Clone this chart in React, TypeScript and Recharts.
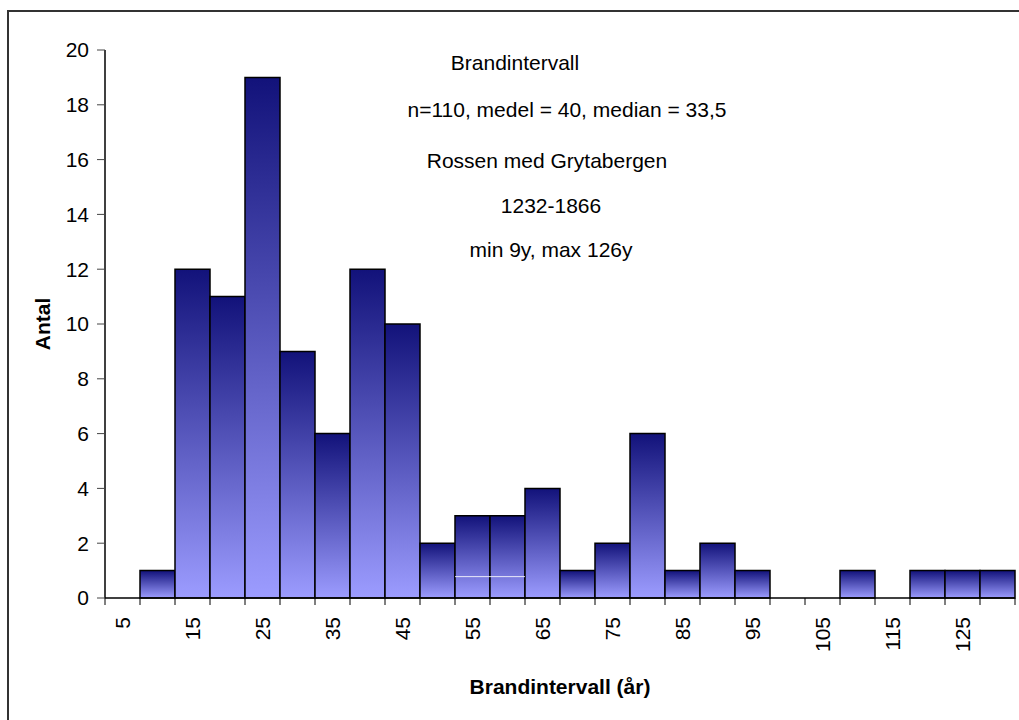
import { Bar, BarChart, ReferenceLine, XAxis, YAxis } from "recharts";

// fire-interval bins (years) and number of intervals in each
const bins = [
  "5", "10", "15", "20", "25", "30", "35", "40", "45", "50", "55", "60", "65",
  "70", "75", "80", "85", "90", "95", "100", "105", "110", "115", "120", "125", "130",
];
const counts = [0, 1, 12, 11, 19, 9, 6, 12, 10, 2, 3, 3, 4, 1, 2, 6, 1, 2, 1, 0, 0, 1, 0, 1, 1, 1];
const yTicks = [0, 2, 4, 6, 8, 10, 12, 14, 16, 18, 20];

const infoLines = [
  { text: "Brandintervall", x: 515, y: 70 },
  { text: "n=110, medel = 40, median = 33,5", x: 567, y: 117 },
  { text: "Rossen med Grytabergen", x: 547, y: 168 },
  { text: "1232-1866", x: 551, y: 213 },
  { text: "min 9y, max 126y", x: 551, y: 257 },
];

const data = bins.map((bin, i) => ({ bin, count: counts[i] }));

const FONT = '"Liberation Sans", Arial, sans-serif';

// every bin gets a tick mark on its left edge (the last also on its right),
// but only every other bin gets a rotated label
function BinTick(props: any) {
  const { x, y, payload, index } = props;
  const half = payload.offset ?? 0;
  const last = index === bins.length - 1;
  return (
    <g>
      <line x1={x - half} x2={x - half} y1={y} y2={y + 7} stroke="#000" strokeWidth={1} />
      {last && <line x1={x + half} x2={x + half} y1={y} y2={y + 7} stroke="#000" strokeWidth={1} />}
      {index % 2 === 0 && (
        <text
          x={x}
          y={y + 19}
          transform={`rotate(-90 ${x} ${y + 19})`}
          textAnchor="end"
          dominantBaseline="central"
          fontSize={21}
          fill="#000"
        >
          {payload.value}
        </text>
      )}
    </g>
  );
}

export default function App() {
  return (
    <div
      style={{
        position: "fixed",
        left: 0,
        top: 0,
        width: 1019,
        height: 720,
        overflow: "hidden",
        background: "#fff",
        fontFamily: FONT,
      }}
    >
      <div
        style={{
          position: "absolute",
          left: 7,
          top: 10,
          width: 1100,
          height: 800,
          border: "2px solid #333",
        }}
      />
      <BarChart
        width={1019}
        height={720}
        data={data}
        margin={{ top: 50, right: 4, bottom: 22, left: 0 }}
        barCategoryGap={0}
        barGap={0}
        style={{ position: "absolute", left: 0, top: 0 }}
      >
        <defs>
          <linearGradient id="barFill" x1="0" y1="0" x2="0" y2="1">
            <stop offset="0%" stopColor="#12127a" />
            <stop offset="100%" stopColor="#9c9cff" />
          </linearGradient>
        </defs>

        <XAxis
          dataKey="bin"
          height={100}
          interval={0}
          axisLine={{ stroke: "#000", strokeWidth: 1.5 }}
          tickLine={false}
          tickSize={0}
          tickMargin={0}
          tick={<BinTick />}
          label={{
            value: "Brandintervall (år)",
            position: "insideBottom",
            offset: 4,
            fontSize: 21,
            fontWeight: "bold",
            fill: "#000",
          }}
        />
        <YAxis
          width={105}
          domain={[0, 20]}
          ticks={yTicks}
          tickSize={8}
          tickMargin={8}
          tick={{ fontSize: 21, fill: "#000" }}
          axisLine={{ stroke: "#000", strokeWidth: 1.5 }}
          tickLine={{ stroke: "#444" }}
          label={{
            value: "Antal",
            angle: -90,
            position: "center",
            dx: -10,
            fontSize: 21,
            fontWeight: "bold",
            fill: "#000",
          }}
        />
        <Bar
          dataKey="count"
          fill="url(#barFill)"
          stroke="#000"
          strokeWidth={1.5}
          isAnimationActive={false}
        />
        {/* thin light streak across the 55 and 60 bars */}
        <ReferenceLine
          segment={[
            { x: "55", y: 0.78 },
            { x: "65", y: 0.78 },
          ]}
          position="start"
          stroke="#ffffff"
          strokeOpacity={0.85}
          strokeWidth={1}
        />
        {infoLines.map((line) => (
          <text
            key={line.text}
            x={line.x}
            y={line.y}
            textAnchor="middle"
            fontSize={21}
            fill="#000"
          >
            {line.text}
          </text>
        ))}
      </BarChart>
    </div>
  );
}
